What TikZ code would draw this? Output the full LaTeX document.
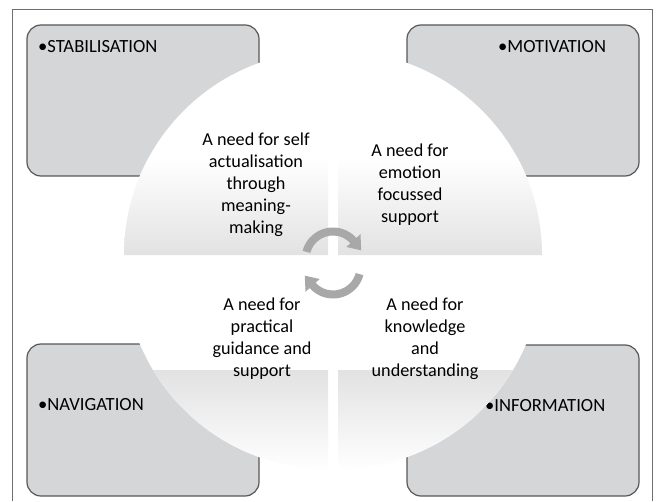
\documentclass[tikz,border=0pt]{standalone}
\usepackage{fontspec}
\setmainfont{Carlito}
\definecolor{boxfill}{RGB}{213,214,216}
\definecolor{boxline}{RGB}{88,88,88}
\definecolor{framecol}{RGB}{110,110,110}
\definecolor{quadgray}{RGB}{226,226,226}
\definecolor{arrowcol}{RGB}{168,168,168}
\begin{document}
\begin{tikzpicture}[x=1pt,y=1pt,
  catbox/.style={draw=boxline, fill=boxfill, line width=1.2pt, rounded corners=14pt},
  cattext/.style={anchor=west, inner sep=0pt, font=\fontsize{18.6}{22}\selectfont},
  needtext/.style={align=center, inner sep=0pt, font=\fontsize{18.2}{22}\selectfont},
  arrowfill/.style={fill=arrowcol}]
\useasboundingbox (0,0) rectangle (660,501);
\fill[white] (0,0) rectangle (660,501);
% outer frame
\draw[framecol, line width=0.8pt] (12,0) -- (12,492) -- (652,492) -- (652,0);
% category boxes
\draw[catbox] (27,325) rectangle (259,476);
\draw[catbox] (407,325) rectangle (639,476);
\draw[catbox] (27,5) rectangle (259,157);
\draw[catbox] (407,5) rectangle (639,156);
\node[cattext] (stab) at (38,454) {•STABILISATION};
\node[cattext] (moti) at (498,454) {•MOTIVATION};
\node[cattext] (navi) at (38,96) {•NAVIGATION};
\node[cattext] (info) at (485,95) {•INFORMATION};
% quadrants
\fill[white] (328,246) -- (124,246) arc[start angle=180,end angle=90,radius=204pt] -- cycle;
\begin{scope}
  \clip (328,246) -- (124,246) arc[start angle=180,end angle=90,radius=204pt] -- cycle;
  \shade[top color=white,bottom color=quadgray] (120,246) rectangle (330,343);
\end{scope}
\fill[white] (338,246) -- (338,450) arc[start angle=90,end angle=0,radius=204pt] -- cycle;
\begin{scope}
  \clip (338,246) -- (338,450) arc[start angle=90,end angle=0,radius=204pt] -- cycle;
  \shade[top color=white,bottom color=quadgray] (336,246) rectangle (545,343);
\end{scope}
\fill[white] (328,236) -- (124,236) arc[start angle=180,end angle=270,radius=204pt] -- cycle;
\begin{scope}
  \clip (328,236) -- (124,236) arc[start angle=180,end angle=270,radius=204pt] -- cycle;
  \shade[top color=quadgray,bottom color=white] (120,30) rectangle (330,131);
\end{scope}
\fill[white] (338,236) -- (542,236) arc[start angle=0,end angle=-90,radius=204pt] -- cycle;
\begin{scope}
  \clip (338,236) -- (542,236) arc[start angle=0,end angle=-90,radius=204pt] -- cycle;
  \shade[top color=quadgray,bottom color=white] (336,30) rectangle (545,131);
\end{scope}
% quadrant texts
\node[needtext] (q1) at (256,316) {A need for self\\actualisation\\through\\meaning-\\making};
\node[needtext] (q2) at (410,316) {A need for\\emotion\\focussed\\support};
\node[needtext] (q3) at (262,162) {A need for\\practical\\guidance and\\support};
\node[needtext] (q4) at (425,162) {A need for\\knowledge\\and\\understanding};
% circular arrows
\fill[arrowfill] ([shift={(333,242)}]165:31.5pt) arc[start angle=165,end angle=42,radius=31.5pt]
  -- ([shift={(333,242)}]42:37pt) -- ([shift={(333,242)}]17:29.5pt) -- ([shift={(333,242)}]42:18pt)
  -- ([shift={(333,242)}]42:23.5pt) arc[start angle=42,end angle=165,radius=23.5pt] -- cycle;
\begin{scope}[rotate around={180:(333,238)}]
\fill[arrowfill] ([shift={(333,242)}]165:31.5pt) arc[start angle=165,end angle=42,radius=31.5pt]
  -- ([shift={(333,242)}]42:37pt) -- ([shift={(333,242)}]17:29.5pt) -- ([shift={(333,242)}]42:18pt)
  -- ([shift={(333,242)}]42:23.5pt) arc[start angle=42,end angle=165,radius=23.5pt] -- cycle;
\end{scope}
\end{tikzpicture}
\end{document}
